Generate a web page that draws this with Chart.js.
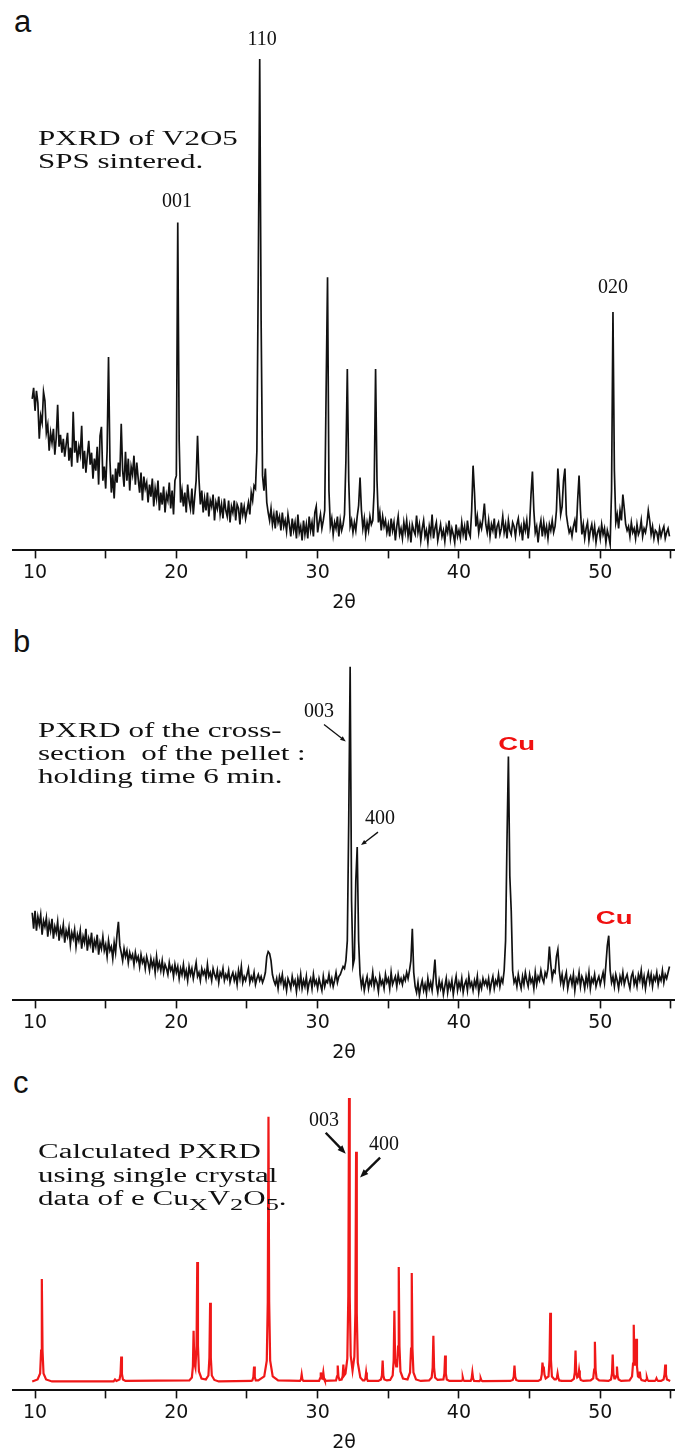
<!DOCTYPE html>
<html>
<head>
<meta charset="utf-8">
<script src="https://cdn.jsdelivr.net/npm/chart.js@4.4.1/dist/chart.umd.min.js"></script>
<style>
  html, body { margin: 0; padding: 0; background: #fff; }
  body { width: 675px; height: 1451px; position: relative; overflow: hidden; }
  canvas { position: absolute; left: 0; }
  .tag { position: absolute; font: 31px "Liberation Sans", Arial, sans-serif; line-height: 30px; color: #111; }
</style>
</head>
<body>
<div class="tag" style="left:14px; top:7px">a</div>
<div class="tag" style="left:13px; top:627px">b</div>
<div class="tag" style="left:13px; top:1068px">c</div>
<canvas id="chartA" width="675" height="614" style="top:0px"></canvas>
<canvas id="chartB" width="675" height="450" style="top:614px"></canvas>
<canvas id="chartC" width="675" height="390" style="top:1064px"></canvas>
<script>
// scan grid shared by the two measured patterns (degrees 2theta)
const scanStart = 9.8
const scanStep = 0.1
const tickValues = [10, 15, 20, 25, 30, 35, 40, 45, 50, 55]

// a: V2O5 SPS sintered (counts)
const sinteredIntensity = [
  152, 163,
  140, 160, 148, 112, 135, 128, 159, 150, 118, 126,
  100, 118, 108, 122, 96, 113, 146, 104, 116, 98,
  112, 94, 106, 118, 90, 103, 84, 139, 98, 110,
  88, 104, 96, 125, 82, 100, 78, 95, 110, 86,
  98, 72, 92, 80, 104, 66, 115, 124, 70, 84,
  62, 100, 194, 90, 58, 76, 52, 82, 68, 88,
  74, 127, 80, 64, 99, 70, 92, 60, 84, 76,
  95, 66, 88, 72, 58, 78, 50, 74, 62, 68,
  48, 66, 54, 72, 44, 62, 52, 70, 40, 58,
  46, 64, 38, 56, 50, 68, 42, 60, 36, 70,
  75, 329, 110, 48, 60, 44, 58, 38, 66, 50,
  42, 62, 36, 54, 70, 115, 72, 46, 60, 38,
  52, 40, 58, 34, 50, 44, 56, 30, 48, 42,
  54, 36, 46, 32, 52, 40, 34, 50, 28, 44,
  38, 50, 30, 46, 42, 26, 48, 36, 44, 32,
  40, 48, 36, 58, 50, 65, 62, 100, 280, 493,
  230, 75, 60, 82, 48, 38, 30, 42, 26, 36,
  22, 40, 28, 34, 20, 38, 24, 30, 19, 36,
  26, 14, 32, 20, 28, 12, 36, 18, 24, 10,
  30, 16, 26, 12, 34, 20, 28, 14, 38, 44,
  18, 28, 36, 22, 30, 40, 160, 274, 60, 24,
  32, 16, 28, 22, 34, 14, 30, 20, 26, 36,
  90, 182, 70, 24, 30, 18, 28, 20, 34, 45,
  73, 40, 22, 32, 16, 28, 20, 34, 26, 30,
  60, 182, 70, 28, 38, 20, 34, 24, 30, 18,
  26, 14, 32, 20, 28, 10, 24, 34, 16, 22,
  12, 28, 18, 30, 14, 24, 8, 26, 20, 16,
  35, 18, 26, 10, 22, 30, 14, 20, 8, 24,
  16, 36, 12, 22, 28, 10, 18, 26, 14, 20,
  9, 24, 18, 30, 12, 22, 16, 8, 26, 14,
  20, 12, 28, 16, 24, 10, 30, 18, 14, 40,
  85, 58, 24, 34, 18, 28, 22, 32, 47, 26,
  18, 30, 14, 26, 20, 32, 12, 24, 28, 16,
  22, 34, 18, 26, 12, 30, 20, 16, 28, 24,
  14, 26, 32, 18, 24, 10, 28, 20, 30, 12,
  26, 56, 79, 40, 18, 24, 8, 22, 30, 14,
  28, 16, 24, 12, 26, 20, 30, 18, 24, 40,
  82, 60, 36, 44, 70, 82, 36, 26, 18, 22,
  14, 24, 30, 18, 50, 75, 40, 16, 26, 12,
  22, 28, 10, 20, 26, 14, 24, 8, 18, 22,
  12, 26, 16, 22, 8, 20, 14, 6, 60, 239,
  80, 28, 36, 22, 40, 30, 56, 42, 26, 20,
  24, 14, 28, 18, 22, 12, 26, 16, 20, 30,
  14, 22, 18, 26, 40, 30, 16, 24, 12, 20,
  18, 10, 22, 14, 20, 24, 12, 18, 22, 14
]

// b: cross-section of the pellet, holding time 6 min
const crossSectionIntensity = [
  88, 72,
  90, 70, 84, 76, 86, 66, 80, 74, 83, 64,
  78, 70, 82, 62, 74, 68, 79, 60, 72, 66,
  76, 58, 70, 64, 73, 56, 68, 62, 71, 54,
  66, 60, 70, 52, 64, 58, 72, 50, 62, 56,
  68, 48, 60, 54, 66, 46, 58, 52, 64, 50,
  56, 44, 60, 50, 54, 42, 58, 48, 66, 79,
  55, 48, 40, 52, 44, 50, 38, 48, 42, 46,
  36, 48, 40, 44, 34, 46, 38, 42, 32, 44,
  38, 30, 42, 34, 40, 28, 44, 32, 38, 30,
  40, 28, 36, 32, 26, 38, 30, 34, 24, 36,
  28, 34, 22, 32, 26, 36, 24, 30, 20, 34,
  26, 32, 22, 30, 38, 24, 28, 20, 32, 26,
  30, 22, 36, 24, 28, 20, 32, 26, 22, 30,
  18, 28, 24, 32, 20, 26, 22, 30, 18, 24,
  28, 20, 26, 16, 30, 22, 34, 18, 24, 20,
  26, 32, 18, 24, 20, 28, 16, 22, 26, 20,
  24, 18, 22, 28, 44, 49, 47, 40, 26, 20,
  16, 22, 12, 24, 18, 26, 14, 20, 10, 22,
  18, 12, 24, 16, 20, 9, 22, 14, 26, 12,
  20, 14, 24, 10, 18, 22, 12, 26, 16, 20,
  12, 22, 16, 10, 24, 14, 20, 18, 26, 16,
  22, 14, 20, 28, 18, 24, 26, 30, 34, 32,
  40, 60, 180, 335, 100, 35, 42, 120, 154, 60,
  26, 14, 22, 10, 18, 24, 12, 20, 16, 28,
  14, 22, 18, 9, 24, 16, 20, 12, 26, 18,
  22, 12, 28, 16, 20, 24, 14, 26, 18, 22,
  16, 24, 20, 28, 22, 30, 40, 72, 28, 14,
  8, 18, 5, 14, 20, 10, 16, 7, 22, 12,
  18, 10, 24, 41, 16, 8, 20, 12, 18, 6,
  14, 22, 8, 18, 12, 20, 6, 16, 24, 10,
  18, 12, 22, 8, 16, 20, 10, 24, 14, 18,
  10, 20, 14, 24, 8, 18, 12, 22, 16, 20,
  14, 22, 10, 18, 24, 12, 20, 16, 26, 14,
  22, 18, 30, 60, 160, 245, 125, 90, 30, 18,
  22, 14, 26, 18, 12, 24, 16, 28, 20, 14,
  26, 18, 22, 12, 28, 16, 24, 20, 30, 22,
  18, 28, 24, 32, 54, 36, 22, 30, 28, 44,
  51, 30, 18, 26, 14, 22, 28, 12, 20, 24,
  16, 26, 10, 22, 18, 28, 14, 24, 20, 12,
  24, 16, 28, 12, 22, 18, 26, 14, 20, 24,
  16, 22, 28, 18, 36, 55, 65, 30, 18, 24,
  14, 26, 20, 12, 24, 18, 28, 16, 22, 26,
  18, 12, 24, 28, 16, 22, 14, 26, 20, 30,
  16, 24, 12, 22, 28, 18, 26, 14, 24, 20,
  28, 16, 24, 20, 30, 18, 26, 22, 28, 34
]

// c: calculated pattern, [2theta, intensity] pairs
const calculatedProfile = [
  [9.8, 9], [10.18, 11], [10.36, 17], [10.43, 40], [10.48, 112], [10.53, 40], [10.6, 17], [10.78, 11], [11.2, 9],
  [15.56, 9], [15.66, 11], [15.76, 9.5], [15.98, 11], [16.05, 16.5], [16.1, 34], [16.15, 16.5], [16.22, 11], [16.4, 9.5],
  [20.92, 10], [21.1, 13], [21.17, 24], [21.22, 60], [21.27, 28], [21.35, 23], [21.43, 45], [21.48, 129], [21.53, 45],
  [21.6, 19], [21.78, 12], [22.09, 11], [22.27, 15], [22.34, 33], [22.39, 88], [22.44, 33], [22.51, 15], [22.69, 10.5], [23.0, 9],
  [25.3, 9.5], [25.38, 10], [25.45, 13.5], [25.5, 24], [25.55, 13.5], [25.62, 10], [25.8, 10],
  [26.22, 14], [26.4, 30], [26.47, 89], [26.52, 275], [26.57, 89], [26.64, 30], [26.82, 14], [27.2, 10],
  [28.75, 9.5], [28.82, 11], [28.87, 16], [28.92, 11], [28.99, 9.5],
  [30.1, 9.5], [30.17, 12], [30.22, 18], [30.29, 12.5], [30.34, 12], [30.4, 18], [30.45, 12], [30.52, 9.5],
  [31.3, 10], [31.37, 14], [31.42, 25], [31.47, 14], [31.55, 10.5], [31.7, 11], [31.77, 14.5], [31.82, 26], [31.87, 15],
  [31.97, 17], [32.1, 32], [32.17, 95], [32.22, 294], [32.27, 95], [32.34, 35], [32.47, 20], [32.6, 34], [32.67, 78],
  [32.72, 240], [32.77, 78], [32.84, 28], [33.02, 13], [33.2, 10],
  [33.31, 10], [33.38, 12], [33.43, 18], [33.48, 12], [33.55, 9.5],
  [34.3, 9.5], [34.48, 11], [34.55, 15], [34.6, 30], [34.65, 15], [34.72, 11], [34.9, 10],
  [35.13, 10.5], [35.31, 15], [35.38, 30], [35.43, 80], [35.48, 32], [35.56, 24], [35.62, 24], [35.69, 44], [35.74, 124],
  [35.79, 44], [35.86, 19], [36.04, 12], [36.36, 11], [36.54, 18], [36.61, 42], [36.66, 118], [36.71, 42], [36.78, 18],
  [36.96, 11], [37.3, 9.5],
  [37.89, 10], [38.07, 13], [38.14, 23], [38.19, 55], [38.24, 23], [38.31, 13], [38.49, 10.5],
  [38.9, 11], [38.97, 17], [39.02, 35], [39.07, 17], [39.14, 11], [39.32, 9.5],
  [40.15, 9.5], [40.22, 10], [40.27, 13], [40.32, 10], [40.39, 9.5],
  [40.83, 9.5], [40.9, 12], [40.95, 18], [41.0, 12], [41.07, 9.5],
  [41.44, 9.3], [41.49, 10], [41.54, 12], [41.59, 10], [41.66, 9.3],
  [43.63, 9.5], [43.81, 10.5], [43.88, 14], [43.93, 25], [43.98, 14], [44.05, 10.5], [44.23, 9.5],
  [45.61, 9.5], [45.79, 11], [45.86, 16], [45.91, 28], [45.96, 22], [46.0, 24], [46.05, 16], [46.14, 12],
  [46.34, 14], [46.41, 31], [46.46, 78], [46.51, 31], [46.58, 14], [46.76, 11],
  [46.86, 11], [46.93, 12.5], [46.98, 17], [47.03, 12.5], [47.1, 10], [47.28, 9.5],
  [47.95, 9.5], [48.13, 11.5], [48.2, 18], [48.25, 40], [48.3, 18], [48.37, 13], [48.45, 14], [48.5, 20], [48.55, 14],
  [48.62, 10.5], [48.8, 9.5],
  [49.32, 10], [49.5, 12], [49.57, 21], [49.62, 49], [49.67, 21], [49.74, 12], [49.92, 10],
  [50.58, 9.5], [50.76, 11], [50.83, 17], [50.88, 36], [50.93, 17], [51.0, 12], [51.06, 12], [51.13, 14.5], [51.18, 24],
  [51.23, 14.5], [51.3, 11], [51.48, 9.5],
  [52.07, 10], [52.25, 14], [52.32, 27], [52.37, 66], [52.42, 30], [52.46, 26], [52.5, 30], [52.55, 52], [52.6, 24],
  [52.67, 14], [52.75, 13], [52.8, 19], [52.85, 12.5], [52.92, 10.5],
  [53.18, 9.5], [53.25, 10.5], [53.3, 13], [53.35, 10.5], [53.42, 9.5],
  [53.86, 9.5], [53.93, 10.3], [53.98, 12], [54.03, 10.3], [54.1, 9.5],
  [54.3, 9.5], [54.48, 11], [54.55, 16], [54.6, 26], [54.65, 16], [54.72, 11], [54.95, 9.5]
]

const serif = '"Liberation Serif", "Times New Roman", serif'
const textFont = '20px ' + serif
const hklFont = '20px ' + serif
const cuFont = 'bold 19px "Liberation Sans", Arial, sans-serif'
const stretch = 1.55

const notesA = [
  { text: '110', at: [26.07, 512], font: hklFont },
  { text: '001', at: [20.05, 350], font: hklFont },
  { text: '020', at: [50.9, 263], font: hklFont },
  { text: 'PXRD of V2O5', at: [10.21, 412], font: textFont, align: 'left', sx: stretch },
  { text: 'SPS sintered.', at: [10.21, 389], font: textFont, align: 'left', sx: stretch }
]

const notesB = [
  { text: '003', at: [30.1, 290], font: hklFont },
  { arrow: true, from: [30.45, 277], to: [31.99, 260], width: 1.3, head: 6 },
  { text: '400', at: [34.42, 182], font: hklFont },
  { arrow: true, from: [34.27, 169], to: [33.07, 156], width: 1.3, head: 6 },
  { text: 'Cu', at: [44.08, 257], font: cuFont, color: '#f01010', sx: 1.45 },
  { text: 'Cu', at: [50.98, 82], font: cuFont, color: '#f01010', sx: 1.45 },
  { text: 'PXRD of the cross-', at: [10.21, 270], font: textFont, align: 'left', sx: stretch },
  { text: 'section  of the pellet :', at: [10.21, 247], font: textFont, align: 'left', sx: stretch },
  { text: 'holding time 6 min.', at: [10.21, 224], font: textFont, align: 'left', sx: stretch }
]

const notesC = [
  { text: '003', at: [30.45, 271], font: hklFont },
  { arrow: true, from: [30.57, 259], to: [31.99, 238], width: 2.4, head: 9 },
  { text: '400', at: [34.7, 247], font: hklFont },
  { arrow: true, from: [34.42, 234], to: [33.0, 214], width: 2.4, head: 9 },
  { text: 'Calculated PXRD', at: [10.21, 239], font: textFont, align: 'left', sx: stretch },
  { text: 'using single crystal', at: [10.21, 215], font: textFont, align: 'left', sx: stretch },
  { parts: [['data of e Cu'], ['X', 1], ['V'], ['2', 1], ['O'], ['5', 1], ['.']], at: [10.21, 192],
    font: textFont, subFont: '17px ' + serif, align: 'left', sx: stretch }
]

const noteLayer = notes => ({
  id: 'notes',
  afterDatasetsDraw(chart) {
    const { ctx } = chart
    const xs = chart.scales.x
    const ys = chart.scales.y
    const px = p => [xs.getPixelForValue(p[0]), ys.getPixelForValue(p[1])]
    ctx.save()
    notes.forEach(n => {
      if (n.arrow) {
        const [x0, y0] = px(n.from)
        const [x1, y1] = px(n.to)
        const ang = Math.atan2(y1 - y0, x1 - x0)
        const h = n.head
        ctx.strokeStyle = '#111'
        ctx.fillStyle = '#111'
        ctx.lineWidth = n.width
        ctx.beginPath()
        ctx.moveTo(x0, y0)
        ctx.lineTo(x1 - Math.cos(ang) * h * 0.8, y1 - Math.sin(ang) * h * 0.8)
        ctx.stroke()
        ctx.beginPath()
        ctx.moveTo(x1, y1)
        ctx.lineTo(x1 - Math.cos(ang - 0.38) * h, y1 - Math.sin(ang - 0.38) * h)
        ctx.lineTo(x1 - Math.cos(ang + 0.38) * h, y1 - Math.sin(ang + 0.38) * h)
        ctx.closePath()
        ctx.fill()
        return
      }
      const [x, y] = px(n.at)
      ctx.save()
      ctx.translate(x, y)
      ctx.scale(n.sx || 1, 1)
      ctx.fillStyle = n.color || '#111'
      ctx.textBaseline = 'middle'
      if (n.parts) {
        let cx = 0
        ctx.textAlign = 'left'
        n.parts.forEach(([s, sub]) => {
          ctx.font = sub ? n.subFont : n.font
          ctx.fillText(s, cx, sub ? 6 : 0)
          cx += ctx.measureText(s).width
        })
      } else {
        ctx.font = n.font
        ctx.textAlign = n.align || 'center'
        ctx.fillText(n.text, 0, 0)
      }
      ctx.restore()
    })
    ctx.restore()
  }
})

const onScan = values => values.map((v, i) => ({ x: scanStart + i * scanStep, y: v }))

const drawPattern = (id, points, color, lineWidth, yMax, notes) => {
  const ctx = document.getElementById(id).getContext('2d')
  new Chart(ctx, {
    type: 'line',
    data: {
      datasets: [{
        data: points,
        borderColor: color,
        borderWidth: lineWidth,
        pointRadius: 0,
        tension: 0,
        fill: false
      }]
    },
    options: {
      responsive: false,
      animation: false,
      events: [],
      layout: { padding: { left: 13, right: 0, top: 20, bottom: 0 } },
      plugins: { legend: { display: false }, tooltip: { enabled: false } },
      scales: {
        x: {
          type: 'linear',
          min: 8.44,
          max: 55.29,
          afterBuildTicks: scale => { scale.ticks = tickValues.map(v => ({ value: v })) },
          ticks: {
            callback: v => (v % 10 === 0 ? String(v) : ''),
            autoSkip: false,
            maxRotation: 0,
            padding: 3,
            color: '#111',
            font: { family: '"DejaVu Sans", sans-serif', size: 19 }
          },
          grid: { drawOnChartArea: false, drawTicks: true, tickLength: 8, tickWidth: 1.6, tickColor: '#111' },
          border: { display: true, color: '#111', width: 2 },
          title: {
            display: true,
            text: '2θ',
            color: '#111',
            font: { family: '"DejaVu Sans", sans-serif', size: 19 },
            padding: { top: 4, bottom: 0 }
          }
        },
        y: { display: false, min: 0, max: yMax }
      }
    },
    plugins: [noteLayer(notes)]
  })
}

drawPattern('chartA', onScan(sinteredIntensity), '#111', 1.7, 532, notesA)
drawPattern('chartB', onScan(crossSectionIntensity), '#111', 1.7, 368, notesB)
drawPattern('chartC', calculatedProfile, '#f01818', 2.2, 308, notesC)
</script>
</body>
</html>
